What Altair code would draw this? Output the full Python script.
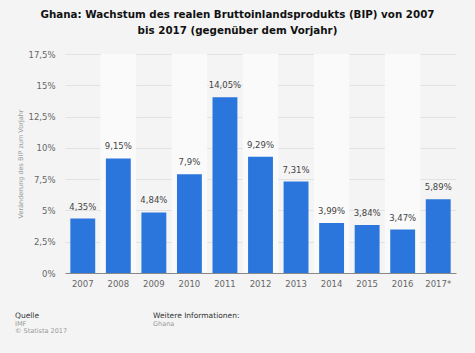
import altair as alt
import pandas as pd

years = ["2007", "2008", "2009", "2010", "2011", "2012", "2013", "2014", "2015", "2016", "2017*"]
growth = [4.35, 9.15, 4.84, 7.9, 14.05, 9.29, 7.31, 3.99, 3.84, 3.47, 5.89]
labels = ["4,35%", "9,15%", "4,84%", "7,9%", "14,05%", "9,29%", "7,31%", "3,99%", "3,84%", "3,47%", "5,89%"]
stripe_years = ["2008", "2010", "2012", "2014", "2016"]
y_ticks = [0, 2.5, 5, 7.5, 10, 12.5, 15, 17.5]

df = pd.DataFrame({"year": years, "value": growth, "label": labels})
stripes = pd.DataFrame({"year": stripe_years})
one = pd.DataFrame({"a": [0]})

FONT = "DejaVu Sans"

xscale = alt.Scale(domain=years, paddingInner=0, paddingOuter=0)
yscale = alt.Scale(domain=[0, 17.5], nice=False)

x_axis = alt.Axis(title=None, labelAngle=0, labelColor="#666666", labelFontSize=8.5,
                  labelFont=FONT, ticks=False, domainColor="#888888", domainWidth=1.2,
                  labelPadding=6, grid=False, bandPosition=0.5, labelAlign="center")
y_axis = alt.Axis(title="Veränderung des BIP zum Vorjahr", titleFontSize=6.5,
                  titleFontWeight="normal", titleColor="#999999", titleFont=FONT,
                  titlePadding=4, values=y_ticks, labelOverlap=False,
                  labelExpr="replace(format(datum.value, '~g'), '.', ',') + '%'",
                  labelColor="#666666", labelFontSize=8.5, labelFont=FONT,
                  ticks=False, domain=False, labelPadding=10,
                  grid=True, gridColor="#e2e2e2", gridWidth=1)

X = alt.X("year:N", scale=xscale, sort=years, axis=x_axis)
Y = alt.Y("value:Q", scale=yscale, axis=y_axis)

stripe_layer = alt.Chart(stripes).mark_bar(color="#fafafa", width=alt.RelativeBandSize(1)).encode(
    x=X,
    y=alt.value(0),
    y2=alt.value(219),
)

bars = alt.Chart(df).mark_bar(color="#2a76dd", width=alt.RelativeBandSize(0.7)).encode(
    x=X,
    y=Y,
)

text = alt.Chart(df).mark_text(dy=-7, fontSize=8.5, color="#444444", font=FONT, baseline="bottom").encode(
    x=X,
    y=Y,
    text="label:N",
)

def foot(txt, x, y, size, color, weight="normal"):
    return alt.Chart(one).mark_text(text=txt, align="left", baseline="middle", fontSize=size,
                                    color=color, font=FONT, fontWeight=weight).encode(
        x=alt.value(x), y=alt.value(y))

footer = [
    foot("Quelle", -50, 262, 7.5, "#333333"),
    foot("IMF", -50, 270, 6.5, "#999999"),
    foot("© Statista 2017", -50, 277, 6.5, "#999999"),
    foot("Weitere Informationen:", 88, 262, 7.5, "#333333"),
    foot("Ghana", 88, 270, 6.5, "#999999"),
]

chart = alt.layer(stripe_layer, bars, text, *footer).properties(
    width=391,
    height=219,
    padding={"left": 65, "top": 54, "right": 19, "bottom": 80},
    autosize=alt.AutoSizeParams(type="none"),
    background="#f4f4f4",
    title=alt.TitleParams(
        text=["Ghana: Wachstum des realen Bruttoinlandsprodukts (BIP) von 2007",
              "bis 2017 (gegenüber dem Vorjahr)"],
        fontSize=10.3, fontWeight="bold", font=FONT, color="#111111",
        anchor="middle", dx=-23, offset=14, lineHeight=16,
    ),
).configure_view(stroke=None, fill="#f4f4f4")

chart.save("out.html", embed_options={"renderer": "svg", "actions": False})
